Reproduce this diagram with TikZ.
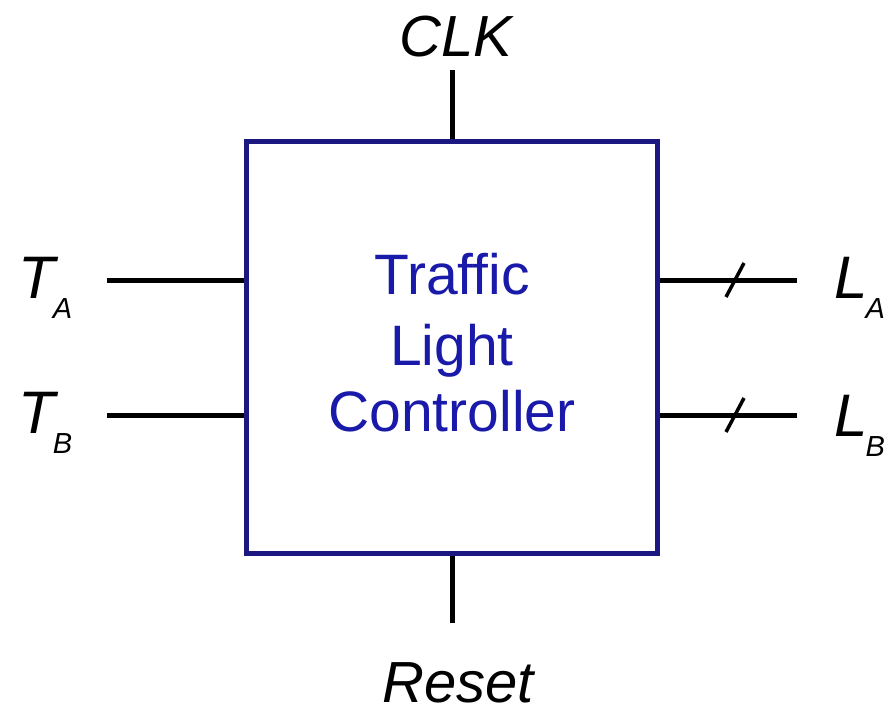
\documentclass[tikz,border=0pt]{standalone}
\usepackage{fontspec}
\setmainfont{Liberation Sans}
\usetikzlibrary{calc}
\definecolor{boxblue}{RGB}{28,24,130}
\definecolor{txtblue}{RGB}{25,25,170}
\tikzset{
  wire/.style={line width=5pt, black},
  slashmark/.style={line width=3.5pt, black},
  sig/.style={inner sep=0pt, anchor=base west, font=\fontsize{60}{60}\selectfont\itshape},
  sigc/.style={inner sep=0pt, anchor=base, font=\fontsize{58}{58}\selectfont\itshape},
  boxtxt/.style={inner sep=0pt, anchor=base, text=txtblue, font=\fontsize{57}{57}\selectfont},
}
\newcommand{\sbx}[1]{\kern-2pt\raisebox{-20pt}{\fontsize{29}{29}\selectfont\itshape #1}}
\begin{document}
\begin{tikzpicture}[x=1pt,y=1pt]
\useasboundingbox (0,0) rectangle (893,-714);
\node[draw=boxblue, line width=5pt, minimum width=411pt, minimum height=411pt, inner sep=0pt] (ctrl) at (451.5,-347.5) {};
\node[boxtxt] (t1) at (452,-294) {Traffic};
\node[boxtxt] (t2) at (452,-365) {Light};
\node[boxtxt] (t3) at (452,-431) {Controller};
% labels
\node[sigc] (clk) at (456,-57) {CLK};
\node[sigc] (rst) at (458,-702) {Reset};
\node[sig] (ta) at (18,-298) {T\sbx{A}};
\node[sig] (tb) at (18,-433) {T\sbx{B}};
\node[sig] (la) at (834,-298) {L\sbx{A}};
\node[sig] (lb) at (834,-436) {L\sbx{B}};
% free ends
\coordinate (clkend) at (452,-70);
\coordinate (rstend) at (452,-623);
\coordinate (taend) at (107,-280);
\coordinate (tbend) at (107,-415);
\coordinate (laend) at (797,-280);
\coordinate (lbend) at (797,-415);
% wires
\draw[wire] (clkend) -- (clkend |- ctrl.north);
\draw[wire] (ctrl.south -| rstend) -- (rstend);
\draw[wire] (taend) -- (taend -| ctrl.west);
\draw[wire] (tbend) -- (tbend -| ctrl.west);
\draw[wire] (laend -| ctrl.east) -- (laend);
\draw[wire] (lbend -| ctrl.east) -- (lbend);
% bus slashes
\coordinate (sa) at (735,-280);
\coordinate (sb) at (735,-415);
\draw[slashmark] ($(sa)+(-9,-17)$) -- ($(sa)+(9,17)$);
\draw[slashmark] ($(sb)+(-9,-17)$) -- ($(sb)+(9,17)$);
\end{tikzpicture}
\end{document}
